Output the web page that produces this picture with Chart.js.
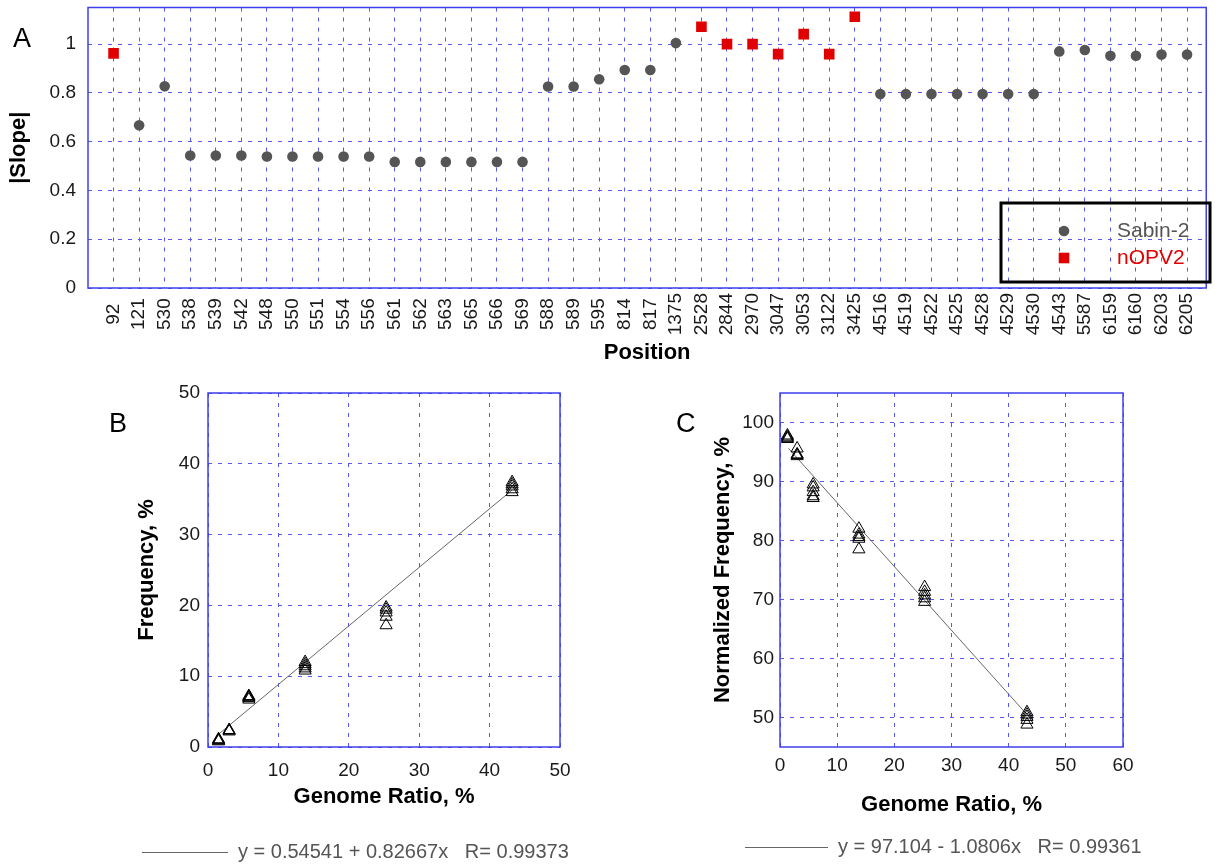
<!DOCTYPE html>
<html>
<head>
<meta charset="utf-8">
<title>Slope per position and genome ratio fits</title>
<script src="https://cdn.jsdelivr.net/npm/chart.js@4.4.1/dist/chart.umd.min.js"></script>
<style>
  html, body { margin: 0; padding: 0; background: #fff; overflow: hidden; }
  body { width: 1215px; height: 864px; position: relative; font-family: "Liberation Sans", Arial, sans-serif; }
  canvas { position: absolute; }
  #chartA { left: 0; top: 0; }
  #chartB { left: 100px; top: 380px; }
  #chartC { left: 680px; top: 380px; }
  .panel { position: absolute; font-size: 27px; line-height: 27px; color: #000; }
</style>
</head>
<body>
<canvas id="chartA" width="1215" height="368"></canvas>
<canvas id="chartB" width="500" height="484"></canvas>
<canvas id="chartC" width="535" height="484"></canvas>
<div class="panel" style="left:13px;top:25px">A</div>
<div class="panel" style="left:109px;top:410px">B</div>
<div class="panel" style="left:676px;top:410px">C</div>
<script>
// Panel A: |slope| per genome position
const positions = ["92", "121", "530", "538", "539", "542", "548", "550", "551", "554",
  "556", "561", "562", "563", "565", "566", "569", "588", "589", "595",
  "814", "817", "1375", "2528", "2844", "2970", "3047", "3053", "3122", "3425",
  "4516", "4519", "4522", "4525", "4528", "4529", "4530", "4543", "5587", "6159",
  "6160", "6203", "6205"];
const sabinSlope = [null, 0.667, 0.827, 0.543, 0.543, 0.543, 0.539, 0.539, 0.539, 0.539,
  0.539, 0.517, 0.517, 0.517, 0.517, 0.517, 0.517, 0.826, 0.826, 0.856,
  0.894, 0.894, 1.004, null, null, null, null, null, null, null,
  0.795, 0.795, 0.795, 0.795, 0.795, 0.795, 0.795, 0.970, 0.976, 0.952,
  0.952, 0.957, 0.957];
const nopvSlope = [0.962, null, null, null, null, null, null, null, null, null,
  null, null, null, null, null, null, null, null, null, null,
  null, null, null, 1.071, 1.0, 1.0, 0.959, 1.041, 0.959, 1.112,
  null, null, null, null, null, null, null, null, null, null,
  null, null, null];
const slopeTicks = [0, 0.2, 0.4, 0.6, 0.8, 1];

// Panel B: frequency vs genome ratio
const ratioB = [1.5, 3.0, 5.8, 13.8, 25.3, 43.2];
const freqB = [
  [0.8, 0.9, 1.0, 1.1],
  [2.2, 2.3, 2.4],
  [6.7, 6.9, 7.0, 7.1, 7.2],
  [10.8, 11.1, 11.4, 11.7, 12.0],
  [17.2, 18.4, 19.0, 19.4, 19.7],
  [36.0, 36.4, 36.8, 37.1, 37.4]
];
const fitBx = [1.5, 43.2];
const fitBy = [1.8, 36.3];
const fitBLabel = "y = 0.54541 + 0.82667x   R= 0.99373";
const ticksB = [0, 10, 20, 30, 40, 50];

// Panel C: normalized frequency vs genome ratio
const ratioC = [1.3, 3.0, 5.8, 13.8, 25.3, 43.2];
const normFreqC = [
  [97.2, 97.4, 97.6, 97.8],
  [94.3, 94.5, 94.6, 95.6],
  [87.2, 87.5, 88.2, 89.0, 89.5],
  [78.5, 80.3, 80.6, 81.0, 82.0],
  [69.6, 70.2, 70.7, 71.3, 72.1],
  [48.8, 49.6, 50.1, 50.5, 50.9]
];
const fitCx = [1.5, 43.1];
const fitCy = [95.6, 50.6];
const fitCLabel = "y = 97.104 - 1.0806x   R= 0.99361";
const xTicksC = [0, 10, 20, 30, 40, 50, 60];
const yTicksC = [50, 60, 70, 80, 90, 100];

const FONT = '"Liberation Sans", Arial, sans-serif';
Chart.defaults.font.family = FONT;
const gridBlue = "rgb(88, 88, 242)";
const frameBlue = "#3f3fee";

// solid blue box around the plot area
const framePlugin = {
  id: "frame",
  beforeDatasetsDraw(chart) {
    const { ctx, chartArea: a } = chart;
    ctx.save();
    ctx.strokeStyle = frameBlue;
    ctx.lineWidth = 1.5;
    ctx.strokeRect(a.left, a.top, a.right - a.left, a.bottom - a.top);
    ctx.restore();
  }
};

// boxed legend inside panel A
const boxLegend = {
  id: "boxLegend",
  afterDraw(chart, args, opts) {
    const ctx = chart.ctx;
    ctx.save();
    ctx.lineWidth = 3;
    ctx.strokeStyle = "#000";
    ctx.strokeRect(opts.left, opts.top, opts.width, opts.height);
    ctx.font = "21px " + FONT;
    ctx.textBaseline = "middle";
    chart.data.datasets.forEach((ds, i) => {
      const y = opts.top + opts.firstRow + i * opts.rowGap;
      ctx.fillStyle = ds.backgroundColor;
      Chart.helpers.drawPoint(ctx, { pointStyle: ds.pointStyle, radius: ds.pointRadius, rotation: 0, borderWidth: 0 }, opts.markerX, y);
      ctx.fillText(ds.label, opts.textX, y);
    });
    ctx.restore();
  }
};

// line sample + fit equation under panels B and C
const fitLegend = {
  id: "fitLegend",
  afterDraw(chart, args, opts) {
    const ds = chart.data.datasets[1];
    const ctx = chart.ctx;
    ctx.save();
    ctx.strokeStyle = ds.borderColor;
    ctx.lineWidth = 1;
    ctx.beginPath();
    ctx.moveTo(opts.x, opts.y + 0.5);
    ctx.lineTo(opts.x + opts.length, opts.y + 0.5);
    ctx.stroke();
    ctx.fillStyle = "#555";
    ctx.font = "20px " + FONT;
    ctx.textBaseline = "middle";
    ctx.fillText(ds.label, opts.x + opts.length + 10, opts.y);
    ctx.restore();
  }
};

// rotated labels are right-aligned by Chart.js; pad short ones so they sit centred
function centreLabel(s) {
  if (!s) return "";
  const gap = 4 - s.length;
  return s + "\u2007".repeat(Math.floor(gap / 2)) + (gap % 2 ? "\u2008" : "");
}

function fixedTicks(values) {
  return (scale) => { scale.ticks = values.map((v) => ({ value: v })); };
}

// fixed axis width, and no extra room reserved for the end labels
function fixedWidth(w) {
  return (s) => { s.width = w; s.paddingTop = 0; s.paddingBottom = 0; };
}

function axisTitle(text, padding) {
  return { display: true, text: text, color: "#000", font: { size: 22, weight: "bold" }, padding: padding };
}

function tickStyle(padding) {
  return { color: "#1a1a1a", font: { size: 19 }, padding: padding, callback: (v) => String(v) };
}

const gridStyle = { color: gridBlue, drawTicks: false };
const borderStyle = { display: false, dash: [4, 6] };

// ---- Panel A ----
new Chart(document.getElementById("chartA"), {
  type: "scatter",
  data: {
    datasets: [
      {
        label: "Sabin-2",
        data: positions.map((p, i) => ({ x: i + 1, y: sabinSlope[i] })).filter((d) => d.y !== null),
        pointStyle: "circle",
        pointRadius: 5.3,
        backgroundColor: "#555555",
        borderWidth: 0
      },
      {
        label: "nOPV2",
        data: positions.map((p, i) => ({ x: i + 1, y: nopvSlope[i] })).filter((d) => d.y !== null),
        pointStyle: "rect",
        pointRadius: 7.5,
        backgroundColor: "#e00000",
        borderWidth: 0
      }
    ]
  },
  options: {
    responsive: false,
    animation: false,
    layout: { padding: { top: 6, right: 2, left: 0, bottom: 0 } },
    plugins: {
      legend: { display: false },
      tooltip: { enabled: false },
      boxLegend: { left: 1001, top: 203, width: 209, height: 79, firstRow: 28, rowGap: 27, markerX: 1064, textX: 1117 }
    },
    scales: {
      x: {
        type: "linear",
        min: 0,
        max: 43.75,
        afterBuildTicks: fixedTicks(positions.map((p, i) => i + 1)),
        afterFit: (s) => { s.height = 80; },
        grid: gridStyle,
        border: borderStyle,
        ticks: {
          autoSkip: false,
          minRotation: 90,
          maxRotation: 90,
          padding: 5,
          color: "#1a1a1a",
          font: { size: 19 },
          callback: (v) => centreLabel(positions[Math.round(v) - 1])
        },
        title: axisTitle("Position", { top: 0, bottom: 2 })
      },
      y: {
        min: 0,
        max: 1.15,
        afterBuildTicks: fixedTicks(slopeTicks),
        afterFit: fixedWidth(88),
        grid: gridStyle,
        border: borderStyle,
        ticks: tickStyle(12),
        title: axisTitle("|Slope|", { top: 6, bottom: 0 })
      }
    }
  },
  plugins: [framePlugin, boxLegend]
});

// ---- Panels B and C ----
function fitChart(id, xs, groups, fitX, fitY, label, opts) {
  return new Chart(document.getElementById(id), {
    type: "scatter",
    data: {
      datasets: [
        {
          label: "replicates",
          data: xs.flatMap((x, i) => groups[i].map((y) => ({ x: x, y: y }))),
          pointStyle: "triangle",
          pointRadius: 7,
          borderColor: "#000",
          backgroundColor: "rgba(0,0,0,0)",
          borderWidth: 1
        },
        {
          label: label,
          data: fitX.map((x, i) => ({ x: x, y: fitY[i] })),
          showLine: true,
          pointRadius: 0,
          borderColor: "#666",
          borderWidth: 1
        }
      ]
    },
    options: {
      responsive: false,
      animation: false,
      layout: { padding: opts.padding },
      plugins: {
        legend: { display: false },
        tooltip: { enabled: false },
        fitLegend: opts.legend
      },
      scales: {
        x: {
          min: opts.xMin,
          max: opts.xMax,
          afterBuildTicks: fixedTicks(opts.xTicks),
          afterFit: (s) => { s.height = opts.xHeight; },
          grid: gridStyle,
          border: borderStyle,
          ticks: tickStyle(opts.xTickPad),
          title: axisTitle("Genome Ratio, %", { top: 0, bottom: opts.xTitlePad })
        },
        y: {
          min: opts.yMin,
          max: opts.yMax,
          afterBuildTicks: fixedTicks(opts.yTicks),
          afterFit: fixedWidth(opts.yWidth),
          grid: gridStyle,
          border: borderStyle,
          ticks: tickStyle(opts.yTickPad),
          title: axisTitle(opts.yTitle, { top: opts.yTitlePad, bottom: 0 })
        }
      }
    },
    plugins: [framePlugin, fitLegend]
  });
}

fitChart("chartB", ratioB, freqB, fitBx, fitBy, fitBLabel, {
  padding: { top: 13, right: 40, left: 0, bottom: 47 },
  legend: { x: 42, y: 472, length: 86 },
  xMin: 0, xMax: 50, xTicks: ticksB, xHeight: 70, xTickPad: 12, xTitlePad: 7,
  yMin: 0, yMax: 50, yTicks: ticksB, yWidth: 108, yTickPad: 8, yTitlePad: 34,
  yTitle: "Frequency, %"
});

fitChart("chartC", ratioC, normFreqC, fitCx, fitCy, fitCLabel, {
  padding: { top: 13, right: 92, left: 0, bottom: 45 },
  legend: { x: 65, y: 467, length: 83 },
  xMin: 0, xMax: 60, xTicks: xTicksC, xHeight: 72, xTickPad: 7, xTitlePad: 1,
  yMin: 45, yMax: 105, yTicks: yTicksC, yWidth: 100, yTickPad: 6, yTitlePad: 30,
  yTitle: "Normalized Frequency, %"
});
</script>
</body>
</html>
